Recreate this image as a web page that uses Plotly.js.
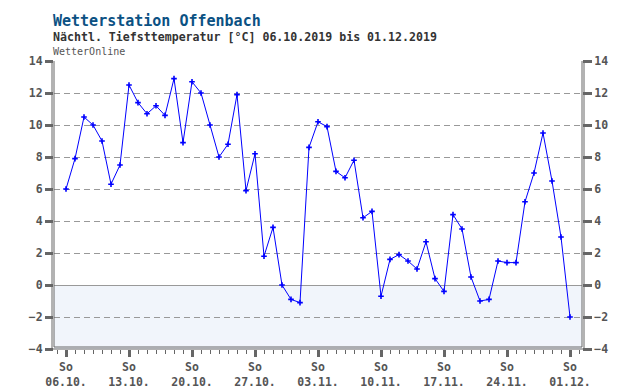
<!DOCTYPE html>
<html>
<head>
<meta charset="utf-8">
<script src="https://cdn.plot.ly/plotly-3.0.1.min.js"></script>
<style>html,body{margin:0;padding:0;background:#fff;}#chart{width:640px;height:390px;}</style>
</head>
<body>
<div id="chart"></div>
<script>
// Daily dates 06.10.2019 .. 01.12.2019
const dates = [
 "2019-10-06","2019-10-07","2019-10-08","2019-10-09","2019-10-10","2019-10-11","2019-10-12",
 "2019-10-13","2019-10-14","2019-10-15","2019-10-16","2019-10-17","2019-10-18","2019-10-19",
 "2019-10-20","2019-10-21","2019-10-22","2019-10-23","2019-10-24","2019-10-25","2019-10-26",
 "2019-10-27","2019-10-28","2019-10-29","2019-10-30","2019-10-31","2019-11-01","2019-11-02",
 "2019-11-03","2019-11-04","2019-11-05","2019-11-06","2019-11-07","2019-11-08","2019-11-09",
 "2019-11-10","2019-11-11","2019-11-12","2019-11-13","2019-11-14","2019-11-15","2019-11-16",
 "2019-11-17","2019-11-18","2019-11-19","2019-11-20","2019-11-21","2019-11-22","2019-11-23",
 "2019-11-24","2019-11-25","2019-11-26","2019-11-27","2019-11-28","2019-11-29","2019-11-30",
 "2019-12-01"
];
// Nightly minimum temperature [°C]
const tmin = [
 6.0, 7.9, 10.5, 10.0, 9.0, 6.3, 7.5,
 12.5, 11.4, 10.7, 11.2, 10.6, 12.9, 8.9,
 12.7, 12.0, 10.0, 8.0, 8.8, 11.9, 5.9,
 8.2, 1.8, 3.6, 0.0, -0.9, -1.1, 8.6,
 10.2, 9.9, 7.1, 6.7, 7.8, 4.2, 4.6,
 -0.7, 1.6, 1.9, 1.5, 1.0, 2.7, 0.4,
 -0.4, 4.4, 3.5, 0.5, -1.0, -0.9, 1.5,
 1.4, 1.4, 5.2, 7.0, 9.5, 6.5, 3.0,
 -2.0
];
const tickDates = ["2019-10-06","2019-10-13","2019-10-20","2019-10-27","2019-11-03","2019-11-10","2019-11-17","2019-11-24","2019-12-01"];
const tickLabels = ["So<br>06.10.","So<br>13.10.","So<br>20.10.","So<br>27.10.","So<br>03.11.","So<br>10.11.","So<br>17.11.","So<br>24.11.","So<br>01.12."];
const yTicks = [-4,-2,0,2,4,6,8,10,12,14];

const FONT = "DejaVu Sans Mono, Liberation Mono, monospace";
const GREY = "#666";
const W = 528, H = 288;

const trace = {
  x: dates, y: tmin, type: "scatter", mode: "lines+markers",
  line: {color: "#0000ff", width: 1},
  marker: {symbol: "cross-thin", size: 4, color: "#0000ff", line: {color: "#0000ff", width: 1.6}},
  hoverinfo: "skip", showlegend: false
};
const trace2 = {
  x: [dates[0]], y: [0], yaxis: "y2", type: "scatter", mode: "markers",
  marker: {opacity: 0}, hoverinfo: "skip", showlegend: false
};

const yCommon = {
  range: [-4, 14], tickvals: yTicks, ticks: "outside", ticklen: 8, tickwidth: 3,
  tickcolor: GREY, showline: false, fixedrange: true,
  tickfont: {family: FONT, size: 11.5, color: "#555", weight: "bold"}
};

const layout = {
  width: 640, height: 390,
  margin: {l: 54, r: 58, t: 61, b: 41, pad: 0},
  paper_bgcolor: "#fff", plot_bgcolor: "#fff",
  xaxis: {
    type: "date",
    range: ["2019-10-04 16:00", "2019-12-02 08:00"],
    tickvals: tickDates, ticktext: tickLabels,
    ticks: "outside", ticklen: 7, tickwidth: 3, tickcolor: GREY,
    minor: {dtick: 86400000, tick0: "2019-10-06", ticks: "outside", ticklen: 4, tickwidth: 1, tickcolor: GREY, showgrid: false},
    showgrid: false, zeroline: false, showline: false,
    tickfont: {family: FONT, size: 11.5, color: "#555", weight: "bold"}
  },
  yaxis: Object.assign({}, yCommon, {
    side: "left",
    showgrid: true, gridcolor: "#999", gridwidth: 1, griddash: "6px,4px",
    zeroline: true, zerolinecolor: "#999", zerolinewidth: 1
  }),
  yaxis2: Object.assign({}, yCommon, {
    overlaying: "y", side: "right", ticklen: 9,
    showgrid: false, zeroline: false
  }),
  shapes: [
    {type: "rect", xref: "paper", yref: "y", x0: 0, x1: 1, y0: -4, y1: 0,
     fillcolor: "#f1f5fb", line: {width: 0}, layer: "below"},
    // double frame lines
    {type: "line", xref: "paper", yref: "paper", x0: -2/W, x1: -2/W, y0: 0, y1: 1, line: {color: GREY, width: 1}},
    {type: "line", xref: "paper", yref: "paper", x0: 0, x1: 0, y0: 2/H, y1: 1, line: {color: GREY, width: 1}},
    {type: "line", xref: "paper", yref: "paper", x0: 1, x1: 1, y0: 2/H, y1: 1, line: {color: GREY, width: 1}},
    {type: "line", xref: "paper", yref: "paper", x0: 1+2/W, x1: 1+2/W, y0: 0, y1: 1, line: {color: GREY, width: 1}},
    {type: "line", xref: "paper", yref: "paper", x0: -2/W, x1: 1+2/W, y0: 0, y1: 0, line: {color: GREY, width: 1}},
    {type: "line", xref: "paper", yref: "paper", x0: 0, x1: 1, y0: 2/H, y1: 2/H, line: {color: GREY, width: 1}}
  ],
  annotations: [
    {text: "Wetterstation Offenbach", xref: "paper", yref: "paper", x: -3/W, y: (349-20.5)/H,
     xanchor: "left", yanchor: "middle", showarrow: false,
     font: {family: FONT, size: 15, color: "#0b5183", weight: "bold"}},
    {text: "Nächtl. Tiefsttemperatur [°C] 06.10.2019 bis 01.12.2019", xref: "paper", yref: "paper", x: -3/W, y: (349-37.3)/H,
     xanchor: "left", yanchor: "middle", showarrow: false,
     font: {family: FONT, size: 11.6, color: "#333", weight: "bold"}},
    {text: "WetterOnline", xref: "paper", yref: "paper", x: -3/W, y: (349-51.3)/H,
     xanchor: "left", yanchor: "middle", showarrow: false,
     font: {family: FONT, size: 10, color: "#555"}}
  ]
};

Plotly.newPlot("chart", [trace, trace2], layout, {displayModeBar: false, staticPlot: true});
</script>
</body>
</html>
